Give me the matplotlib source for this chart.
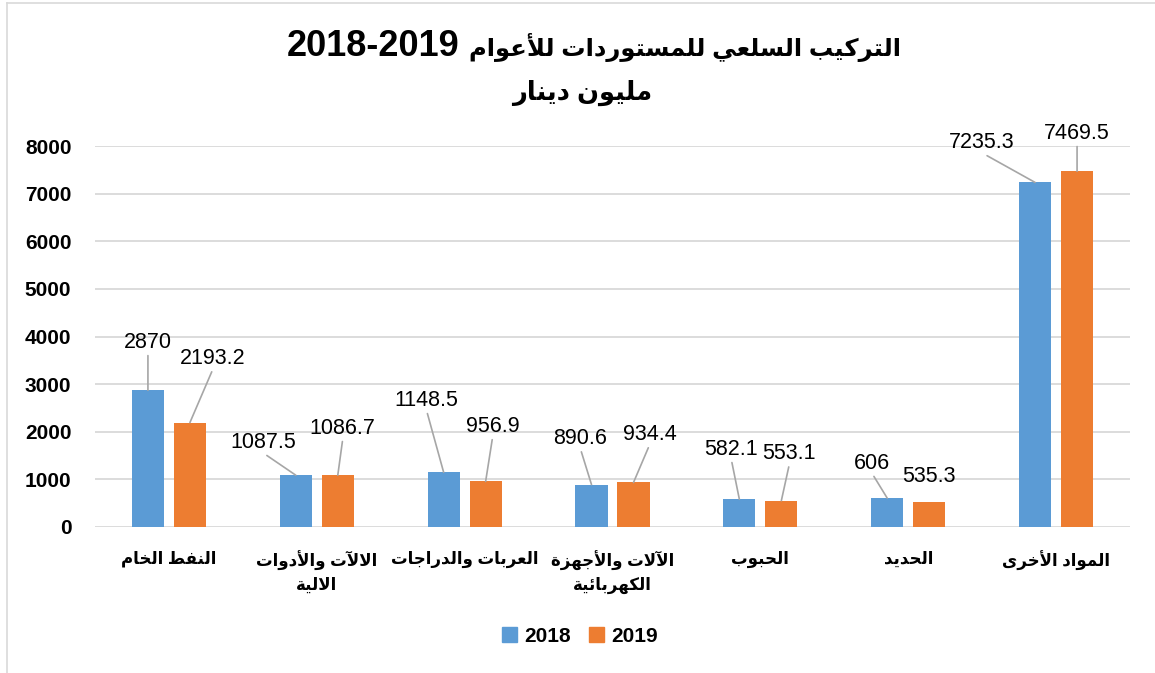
import unicodedata

import matplotlib
matplotlib.use("Agg")
import matplotlib.pyplot as plt
import numpy as np
from matplotlib.lines import Line2D
from matplotlib.patches import Patch


TITLE = "التركيب السلعي للمستوردات للأعوام 2018-2019"
SUBTITLE = "مليون دينار"
CATEGORIES = [
    "النفط الخام",
    "الالآت والأدوات\nالالية",
    "العربات والدراجات",
    "الآلات والأجهزة\nالكهربائية",
    "الحبوب",
    "الحديد",
    "المواد الأخرى",
]
SERIES_NAMES = ["2018", "2019"]
VALUES_2018 = [2870, 1087.5, 1148.5, 890.6, 582.1, 606, 7235.3]
VALUES_2019 = [2193.2, 1086.7, 956.9, 934.4, 553.1, 535.3, 7469.5]
LABELS_2018 = ["2870", "1087.5", "1148.5", "890.6", "582.1", "606", "7235.3"]
LABELS_2019 = ["2193.2", "1086.7", "956.9", "934.4", "553.1", "535.3", "7469.5"]

# label offsets from the bar top, in pixels (Excel-style moved data labels)
OFFSETS_2018 = [(0, 48), (-33, 33), (-17, 72), (-11, 46), (-8, 50), (-15, 35), (-53, 40)]
OFFSETS_2019 = [(23, 64), (5, 47), (7, 55), (16, 48), (8, 47), (0, 25), (0, 38)]

COLORS = ["#5B9BD5", "#ED7D31"]
FONTS = ["Liberation Sans", "DejaVu Sans"]
OUTPUT_PATH = "out.png"
W, H = 1155, 673


RIGHT_JOINING = set("اأإآدذرزوؤةى")
NON_JOINING = set("ء")
ALEFS = set("اأإآ")


def is_arabic(ch):
    return "\u0600" <= ch <= "\u06ff"


def shape_word(word):
    # turn logical Arabic letters into presentation forms, since matplotlib
    # does no shaping of its own
    tokens = []
    i = 0
    while i < len(word):
        ch = word[i]
        if ch == "ل" and i + 1 < len(word) and word[i + 1] in ALEFS:
            tokens.append(("lamalef", word[i + 1], True, False))
            i += 2
            continue
        if not is_arabic(ch) or ch in NON_JOINING:
            tokens.append(("plain", ch, False, False))
        elif ch in RIGHT_JOINING:
            tokens.append(("letter", ch, True, False))
        else:
            tokens.append(("letter", ch, True, True))
        i += 1

    out = []
    for k, (kind, ch, joins_prev, joins_next) in enumerate(tokens):
        if kind == "plain":
            out.append(ch)
            continue
        prev_ok = k > 0 and tokens[k - 1][3] and joins_prev
        next_ok = k < len(tokens) - 1 and joins_next and tokens[k + 1][2]
        if prev_ok and next_ok:
            form = "MEDIAL"
        elif prev_ok:
            form = "FINAL"
        elif next_ok:
            form = "INITIAL"
        else:
            form = "ISOLATED"
        if kind == "lamalef":
            alef = unicodedata.name(ch)[len("ARABIC LETTER "):]
            name = f"ARABIC LIGATURE LAM WITH {alef} {form} FORM"
            fallback = "ل" + ch
        else:
            name = f"{unicodedata.name(ch)} {form} FORM"
            fallback = ch
        try:
            out.append(unicodedata.lookup(name))
        except KeyError:
            out.append(fallback)
    return "".join(out)


def rtl(text):
    lines = []
    for line in text.split("\n"):
        words = []
        for word in reversed(line.split(" ")):
            if any(is_arabic(c) for c in word):
                words.append(shape_word(word)[::-1])
            else:
                words.append(word)
        lines.append(" ".join(words))
    return "\n".join(lines)


def main():
    plt.rcParams["font.family"] = FONTS
    fig = plt.figure(figsize=(W / 100, H / 100), dpi=100)
    ax = fig.add_axes([95 / W, 1 - 527 / H, 1035 / W, 381 / H])

    x = np.arange(len(CATEGORIES))
    bar_width = 0.217
    shift = 0.142

    bars_a = ax.bar(x - shift, VALUES_2018, bar_width, color=COLORS[0], zorder=2)
    bars_b = ax.bar(x + shift, VALUES_2019, bar_width, color=COLORS[1], zorder=2)

    for bars, labels, offsets in [
        (bars_a, LABELS_2018, OFFSETS_2018),
        (bars_b, LABELS_2019, OFFSETS_2019),
    ]:
        for bar, label, (dx, dy) in zip(bars, labels, offsets):
            top = (bar.get_x() + bar.get_width() / 2, bar.get_height())
            arrow = None
            if dy > 30:
                arrow = {
                    "arrowstyle": "-",
                    "color": "#A6A6A6",
                    "linewidth": 1.2,
                    "relpos": (0.5, 0.0),
                    "shrinkA": 0,
                    "shrinkB": 0,
                }
            ax.annotate(
                label,
                xy=top,
                xytext=(dx, dy),
                textcoords="offset pixels",
                ha="center",
                va="center",
                fontsize=15.5,
                color="#000000",
                arrowprops=arrow,
                annotation_clip=False,
                zorder=3,
            )

    ax.set_xlim(-0.5, len(CATEGORIES) - 0.5)
    ax.set_ylim(0, 8000)
    ax.set_yticks(np.arange(0, 8001, 1000))
    ax.yaxis.grid(True, color="#D9D9D9", linewidth=1.3, zorder=0)
    ax.set_axisbelow(True)
    for spine in ax.spines.values():
        spine.set_visible(False)
    ax.tick_params(axis="y", length=0, pad=17, labelsize=15)
    for lab in ax.get_yticklabels():
        lab.set_fontweight("bold")

    ax.set_xticks(x)
    ax.set_xticklabels([rtl(c) for c in CATEGORIES], fontsize=12, fontweight="bold",
                       linespacing=1.45, va="top")
    ax.tick_params(axis="x", length=0, pad=17)

    # title: Arabic words and the year range drawn side by side
    title_words, title_years = TITLE.rsplit(" ", 1)
    fig.text(459 / W, 1 - 56 / H, title_years, ha="right", va="baseline",
             fontsize=26, fontweight="bold")
    fig.text(469 / W, 1 - 56 / H, rtl(title_words), ha="left", va="baseline",
             fontsize=17.5, fontweight="bold")
    fig.text(582 / W, 1 - 93 / H, rtl(SUBTITLE), ha="center", va="center",
             fontsize=18.5, fontweight="bold")

    handles = [Patch(color=c) for c in COLORS]
    fig.legend(handles, SERIES_NAMES, loc="center", bbox_to_anchor=(580 / W, 1 - 636 / H),
               ncol=2, frameon=False, prop={"weight": "bold", "size": 15},
               handlelength=0.7, handleheight=0.7, handletextpad=0.35, columnspacing=0.9)

    # outer chart border like the Excel frame
    fig.add_artist(Line2D([7 / W, 7 / W], [0, 1 - 3 / H], color="#D9D9D9", linewidth=1.2))
    fig.add_artist(Line2D([7 / W, 1], [1 - 3 / H, 1 - 3 / H], color="#D9D9D9", linewidth=1.2))

    fig.savefig(OUTPUT_PATH, dpi=100)


if __name__ == "__main__":
    main()
